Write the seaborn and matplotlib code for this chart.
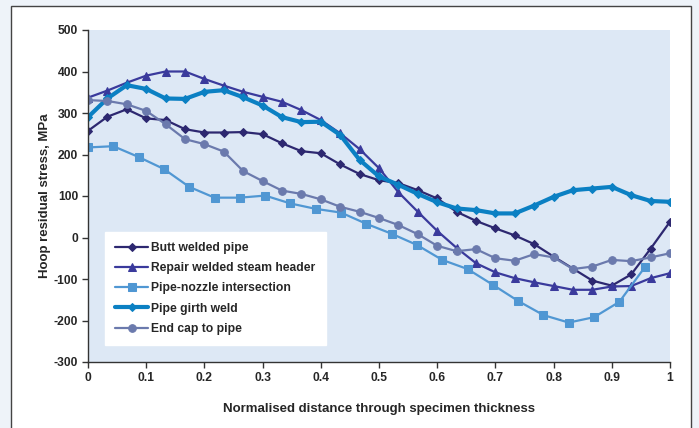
import numpy as np
import pandas as pd
import matplotlib
matplotlib.use("Agg")
import matplotlib.pyplot as plt
import seaborn as sns
from matplotlib.patches import Rectangle

# ---- data ----
x30 = [i / 30 for i in range(31)]
x23 = [i / 23 for i in range(23)]

butt = [257, 291, 309, 287, 283, 261, 253, 253, 254, 249, 227, 208, 203, 176, 153, 138,
        131, 114, 94, 62, 40, 22, 5, -16, -46, -75, -104, -116, -89, -27, 38]
repair = [337, 354, 373, 390, 400, 400, 382, 366, 351, 339, 327, 307, 283, 251, 213, 167,
          109, 62, 16, -25, -62, -84, -98, -108, -117, -126, -126, -118, -117, -98, -86]
nozzle = [217, 220, 194, 165, 122, 96, 96, 101, 82, 69, 60, 33, 9, -18, -54, -76,
          -114, -153, -187, -205, -192, -155, -72]
girth = [290, 335, 367, 358, 335, 334, 351, 355, 338, 318, 290, 278, 279, 247, 187, 147,
         127, 105, 85, 70, 66, 58, 58, 77, 98, 114, 118, 122, 102, 88, 86]
endcap = [331, 329, 321, 305, 273, 237, 225, 207, 160, 136, 113, 105, 92, 74, 62, 47,
          30, 8, -20, -33, -28, -50, -56, -40, -48, -76, -70, -54, -57, -48, -38]

names = ["Butt welded pipe", "Repair welded steam header", "Pipe-nozzle intersection",
         "Pipe girth weld", "End cap to pipe"]
xticks = [0, 0.1, 0.2, 0.3, 0.4, 0.5, 0.6, 0.7, 0.8, 0.9, 1]
xtick_labels = ["0", "0.1", "0.2", "0.3", "0.4", "0.5", "0.6", "0.7", "0.8", "0.9", "1"]
yticks = [-300, -200, -100, 0, 100, 200, 300, 400, 500]

sns.set_theme(style="ticks")
plt.rcParams['font.family'] = ['Liberation Sans', 'DejaVu Sans']
plt.rcParams['axes.unicode_minus'] = False

fig = plt.figure(figsize=(6.99, 4.28), dpi=100)
fig.patch.set_facecolor("#eef3f9")
fig.add_artist(Rectangle((11 / 699, -0.05), (690.5 - 11) / 699, 1.05 - 6 / 428,
                         transform=fig.transFigure, facecolor="white",
                         edgecolor="#444444", linewidth=1.0, zorder=0))

ax = fig.add_axes([88 / 699, 1 - 362 / 428, (670 - 88) / 699, (362 - 30) / 428])
ax.set_facecolor("#dde8f5")

styles = [
    (x30, butt, "D", "#2d2870", 1.6, 4),
    (x30, repair, "^", "#3a3a9c", 1.6, 5.5),
    (x23, nozzle, "s", "#5097d3", 1.6, 5.2),
    (x30, girth, "D", "#0b80c3", 3.0, 4),
    (x30, endcap, "o", "#6b7aad", 1.6, 5.5),
]
for (xs, ys, mk, col, lw, ms), nm in zip(styles, names):
    df = pd.DataFrame({"x": xs, "y": ys})
    sns.lineplot(data=df, x="x", y="y", ax=ax, marker=mk, color=col, linewidth=lw,
                 markersize=ms, markeredgecolor=col, label=nm)

ax.set_xlim(0, 1)
ax.set_ylim(-300, 500)
ax.set_xticks(xticks)
ax.set_xticklabels(xtick_labels)
ax.set_yticks(yticks)
for lab in ax.get_xticklabels() + ax.get_yticklabels():
    lab.set_fontweight("bold")
    lab.set_fontsize(8.7)
ax.tick_params(axis="both", length=4, width=1, color="#333333", pad=3)
sns.despine(ax=ax)
for s in ["left", "bottom"]:
    ax.spines[s].set_color("#333333")
    ax.spines[s].set_linewidth(1.0)

ax.set_xlabel("Normalised distance through specimen thickness", fontsize=9.5,
              fontweight="bold", labelpad=14)
ax.set_ylabel("Hoop residual stress, MPa", fontsize=9.5, fontweight="bold", labelpad=2)

leg = ax.legend(loc="lower left", bbox_to_anchor=(0.029, 0.051), frameon=True,
                fancybox=False, handlelength=2.75, handletextpad=0.25, borderpad=0.85,
                labelspacing=0.68, prop={"weight": "bold", "size": 8.7}, borderaxespad=0)
leg.get_frame().set_facecolor("white")
leg.get_frame().set_edgecolor("white")
leg.get_frame().set_alpha(1)

fig.savefig("out.png", dpi=100, facecolor=fig.get_facecolor())
